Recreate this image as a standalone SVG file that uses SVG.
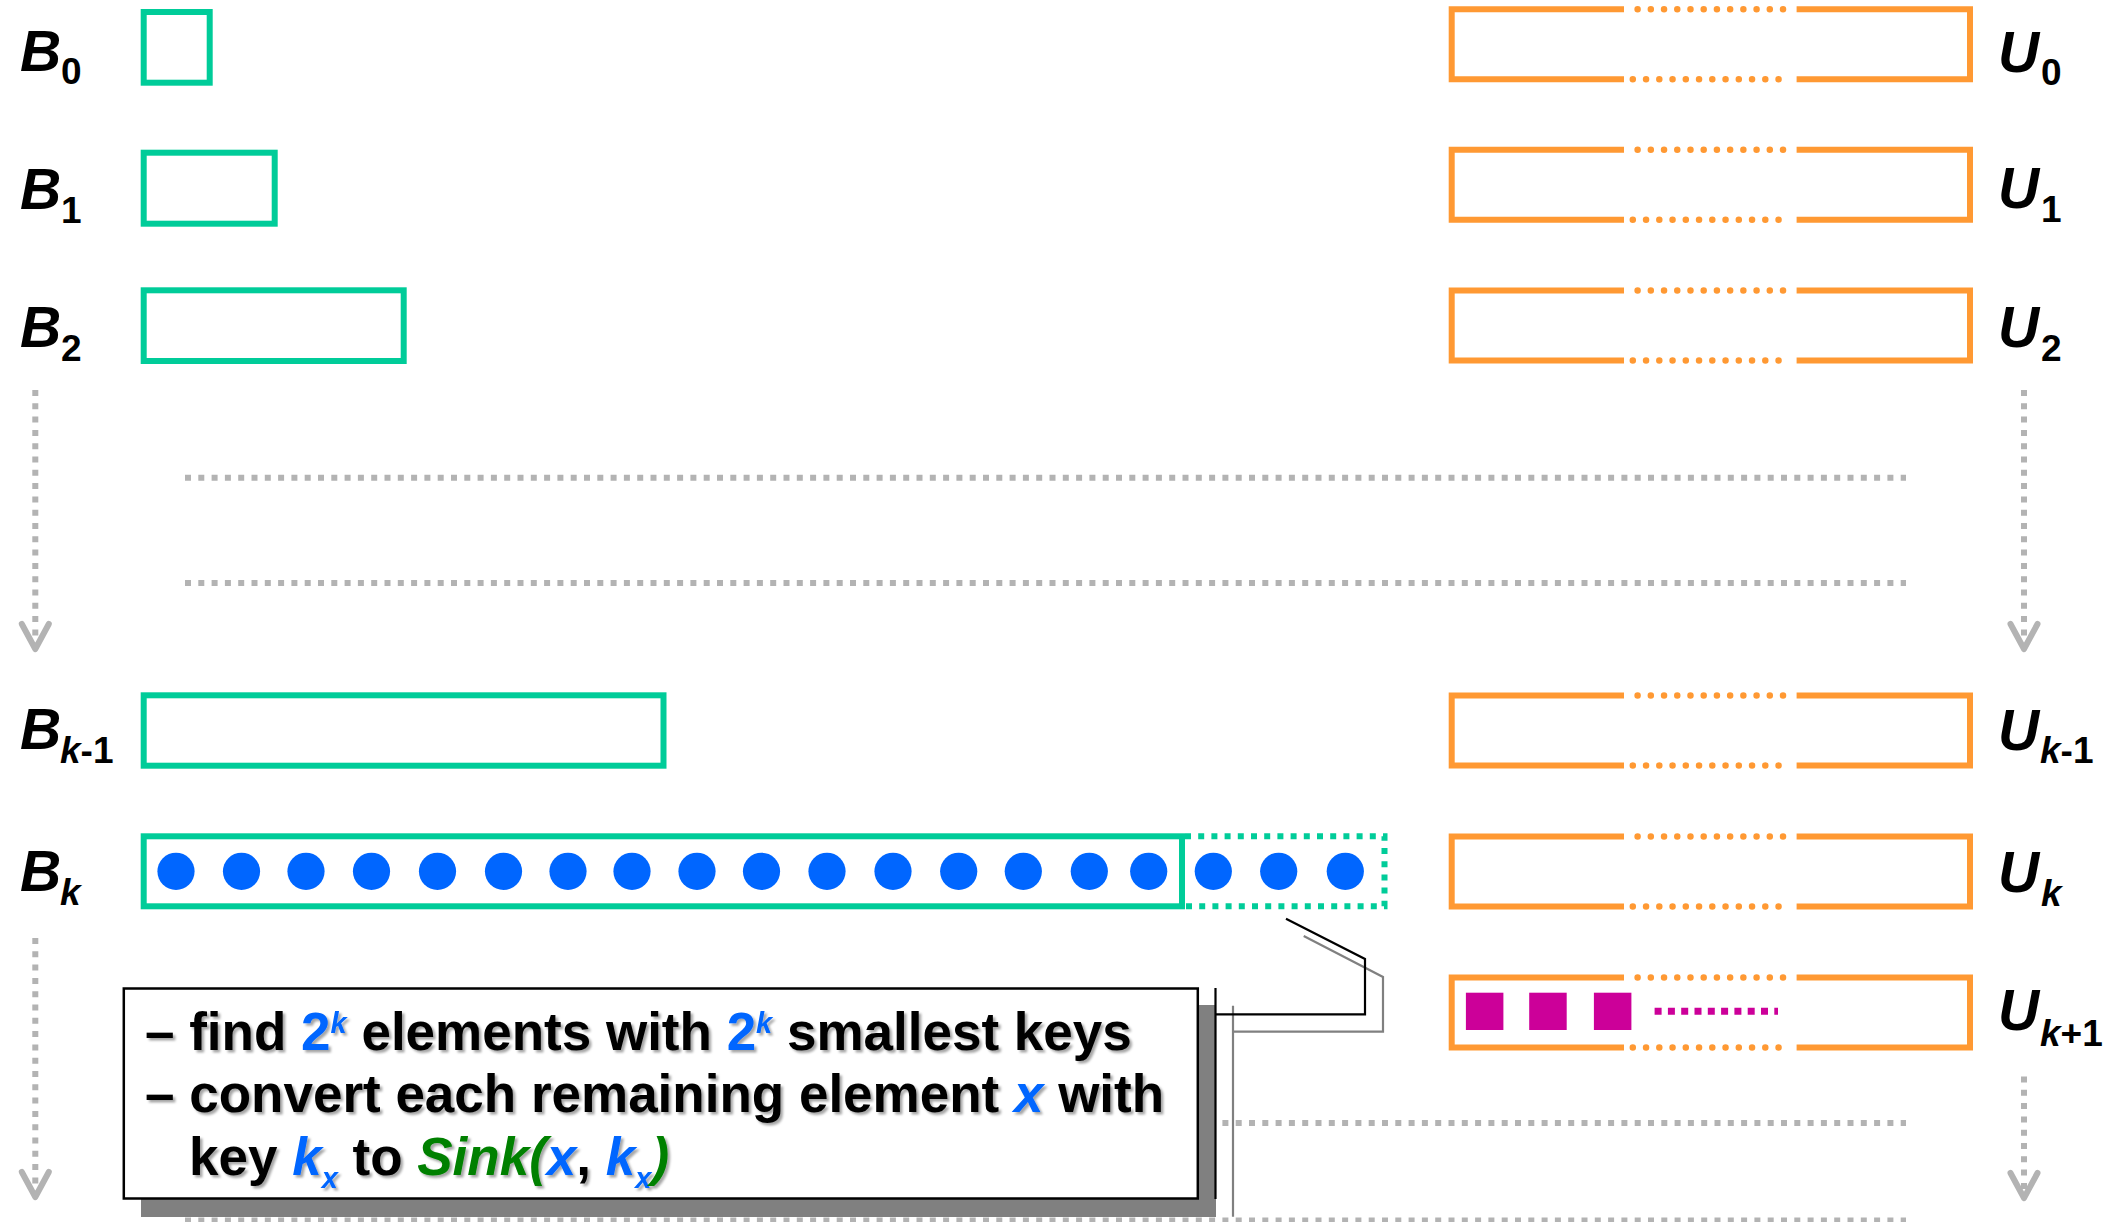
<svg xmlns="http://www.w3.org/2000/svg" xmlns:xlink="http://www.w3.org/1999/xlink" width="2105" height="1222" viewBox="0 0 2105 1222">
<style>
.lbl{font-family:"Liberation Sans",Arial,sans-serif;font-weight:bold;font-style:italic;font-size:57px;fill:#000}
.sub{font-size:37px}
.up{font-style:normal}
.bbox{fill:none;stroke:#00CC99;stroke-width:6}
.bdot{fill:none;stroke:#00CC99;stroke-width:6;stroke-dasharray:6 7.2}
.uline{fill:none;stroke:#FF9933;stroke-width:6}
.udot{fill:none;stroke:#FF9933;stroke-width:6.5;stroke-linecap:round;stroke-dasharray:0 13.22}
.gdot{fill:none;stroke:#B3B3B3;stroke-width:6;stroke-dasharray:6 7.3}
.dot{fill:#0066FF}
.sq{fill:#CC0099}
.ct{font-family:"Liberation Sans",Arial,sans-serif;font-weight:bold;font-size:53px;fill:#000}
.bl{fill:#0066FF}
.gr{fill:#008000}
.it{font-style:italic}
.sm{font-size:29px}
</style>
<defs>
<marker id="chev" markerUnits="userSpaceOnUse" markerWidth="40" markerHeight="40" viewBox="-32 -20 40 40" refX="0" refY="0" orient="auto" overflow="visible">
<path d="M-25,-13.5 L0,0 L-25,13.5" fill="none" stroke="#B3B3B3" stroke-width="6" stroke-linecap="round" stroke-linejoin="round"/>
</marker>
<g id="ubox">
<path class="uline" d="M1624,0 H1451.7 V70 H1624"/>
<path class="uline" d="M1796.6,0 H1970 V70 H1796.6"/>
<line class="udot" x1="1637.6" y1="0" x2="1783.1" y2="0"/>
<line class="udot" x1="1632.8" y1="70" x2="1791.8" y2="70" style="stroke-dasharray:0 13.25"/>
</g>
<filter id="ts" x="-5%" y="-30%" width="110%" height="160%">
<feDropShadow dx="2.5" dy="2.5" stdDeviation="1.2" flood-color="#000" flood-opacity="0.35"/>
</filter>
</defs>
<rect width="2105" height="1222" fill="#fff"/>

<g id="connectors">
<line class="gdot" x1="185" y1="477.7" x2="1906" y2="477.7"/>
<line class="gdot" x1="185" y1="583" x2="1906" y2="583"/>
<line class="gdot" x1="185" y1="1123" x2="1906" y2="1123"/>
<line class="gdot" x1="185" y1="1220.5" x2="1906" y2="1220.5"/>
<line class="gdot" x1="35.3" y1="390" x2="35.3" y2="649" marker-end="url(#chev)"/>
<line class="gdot" x1="2024" y1="390" x2="2024" y2="649" marker-end="url(#chev)"/>
<line class="gdot" x1="35.3" y1="938" x2="35.3" y2="1197" marker-end="url(#chev)"/>
<line class="gdot" x1="2024" y1="1076.5" x2="2024" y2="1198" marker-end="url(#chev)"/>
</g>

<g id="B0"><rect class="bbox" x="143.7" y="12" width="66" height="70.7"/><text class="lbl" x="20" y="70.7">B<tspan class="sub up" x="61" y="84">0</tspan></text></g>
<g id="B1"><rect class="bbox" x="143.7" y="152.7" width="131" height="71"/><text class="lbl" x="20" y="209">B<tspan class="sub up" x="61" y="222.5">1</tspan></text></g>
<g id="B2"><rect class="bbox" x="143.7" y="290.3" width="260" height="70.7"/><text class="lbl" x="20" y="347.3">B<tspan class="sub up" x="61" y="360.5">2</tspan></text></g>
<g id="Bk-1"><rect class="bbox" x="143.7" y="695.3" width="519.8" height="70.4"/><text class="lbl" x="20" y="749.3">B<tspan class="sub" x="60" y="762.7">k<tspan class="up">-1</tspan></tspan></text></g>
<g id="Bk">
<rect class="bbox" x="143.7" y="836.3" width="1038.3" height="70"/>
<path class="bdot" d="M1185,836.3 H1384.5 V906.3 H1185"/>
<g class="dot">
<circle cx="176" cy="871.3" r="18.6"/><circle cx="241.5" cy="871.3" r="18.6"/><circle cx="306" cy="871.3" r="18.6"/><circle cx="371.5" cy="871.3" r="18.6"/><circle cx="437.5" cy="871.3" r="18.6"/><circle cx="503.5" cy="871.3" r="18.6"/><circle cx="568" cy="871.3" r="18.6"/><circle cx="632" cy="871.3" r="18.6"/><circle cx="697" cy="871.3" r="18.6"/><circle cx="761.5" cy="871.3" r="18.6"/><circle cx="827" cy="871.3" r="18.6"/><circle cx="893" cy="871.3" r="18.6"/><circle cx="958.7" cy="871.3" r="18.6"/><circle cx="1023.3" cy="871.3" r="18.6"/><circle cx="1089.3" cy="871.3" r="18.6"/><circle cx="1148.7" cy="871.3" r="18.6"/><circle cx="1213.3" cy="871.3" r="18.6"/><circle cx="1278.7" cy="871.3" r="18.6"/><circle cx="1345.3" cy="871.3" r="18.6"/>
</g>
<text class="lbl" x="20" y="890.7">B<tspan class="sub" x="60" y="905">k</tspan></text>
</g>

<g id="U0"><use xlink:href="#ubox" transform="translate(0,9.2)"/><text class="lbl" x="1998" y="71.7">U<tspan class="sub up" x="2041" y="84.5">0</tspan></text></g>
<g id="U1"><use xlink:href="#ubox" transform="translate(0,149.8)"/><text class="lbl" x="1998" y="208.3">U<tspan class="sub up" x="2041" y="222">1</tspan></text></g>
<g id="U2"><use xlink:href="#ubox" transform="translate(0,290.5)"/><text class="lbl" x="1998" y="346.7">U<tspan class="sub up" x="2041" y="360.5">2</tspan></text></g>
<g id="Uk-1"><use xlink:href="#ubox" transform="translate(0,695.5)"/><text class="lbl" x="1998" y="750">U<tspan class="sub" x="2040" y="763.3">k<tspan class="up">-1</tspan></tspan></text></g>
<g id="Uk"><use xlink:href="#ubox" transform="translate(0,836.5)"/><text class="lbl" x="1998" y="891.7">U<tspan class="sub" x="2041" y="906">k</tspan></text></g>
<g id="Uk+1"><use xlink:href="#ubox" transform="translate(0,977.5)"/>
<rect class="sq" x="1465.9" y="992.7" width="37.5" height="37.3"/><rect class="sq" x="1529.2" y="992.7" width="37.5" height="37.3"/><rect class="sq" x="1593.9" y="992.7" width="37.5" height="37.3"/>
<line x1="1654.6" y1="1011.3" x2="1778" y2="1011.3" stroke="#CC0099" stroke-width="7" stroke-dasharray="7 6.3"/>
<text class="lbl" x="1998" y="1030">U<tspan class="sub" x="2040" y="1046">k<tspan class="up">+1</tspan></tspan></text></g>

<g id="callout">
<rect x="141" y="1005" width="1075" height="212" fill="#808080"/>
<path d="M1233,1005.7 V1216.7 M1233,1031.7 H1383 V977 L1303.7,936" stroke="#808080" stroke-width="2.2" fill="none"/>
<rect x="123.8" y="988.5" width="1074" height="210" fill="#fff" stroke="#000" stroke-width="2.5"/>
<path d="M1215.5,988 V1199 M1215.5,1014.3 H1365 V959 L1286,918.7" stroke="#000" stroke-width="2.2" fill="none"/>
<g filter="url(#ts)">
<text class="ct" x="145" y="1050">– find <tspan class="bl">2</tspan><tspan class="bl it sm" dy="-17">k</tspan><tspan dy="17"> elements with </tspan><tspan class="bl">2</tspan><tspan class="bl it sm" dy="-17">k</tspan><tspan dy="17"> smallest keys</tspan></text>
<text class="ct" x="145" y="1112">– convert each remaining element <tspan class="bl it">x</tspan> with</text>
<text class="ct" x="189" y="1175">key <tspan class="bl it">k</tspan><tspan class="bl it sm" dy="13">x</tspan><tspan dy="-13"> to </tspan><tspan class="gr it">Sink(</tspan><tspan class="bl it">x</tspan>, <tspan class="bl it">k</tspan><tspan class="bl it sm" dy="13">x</tspan><tspan class="gr it" dy="-13">)</tspan></text>
</g>
</g>
</svg>
